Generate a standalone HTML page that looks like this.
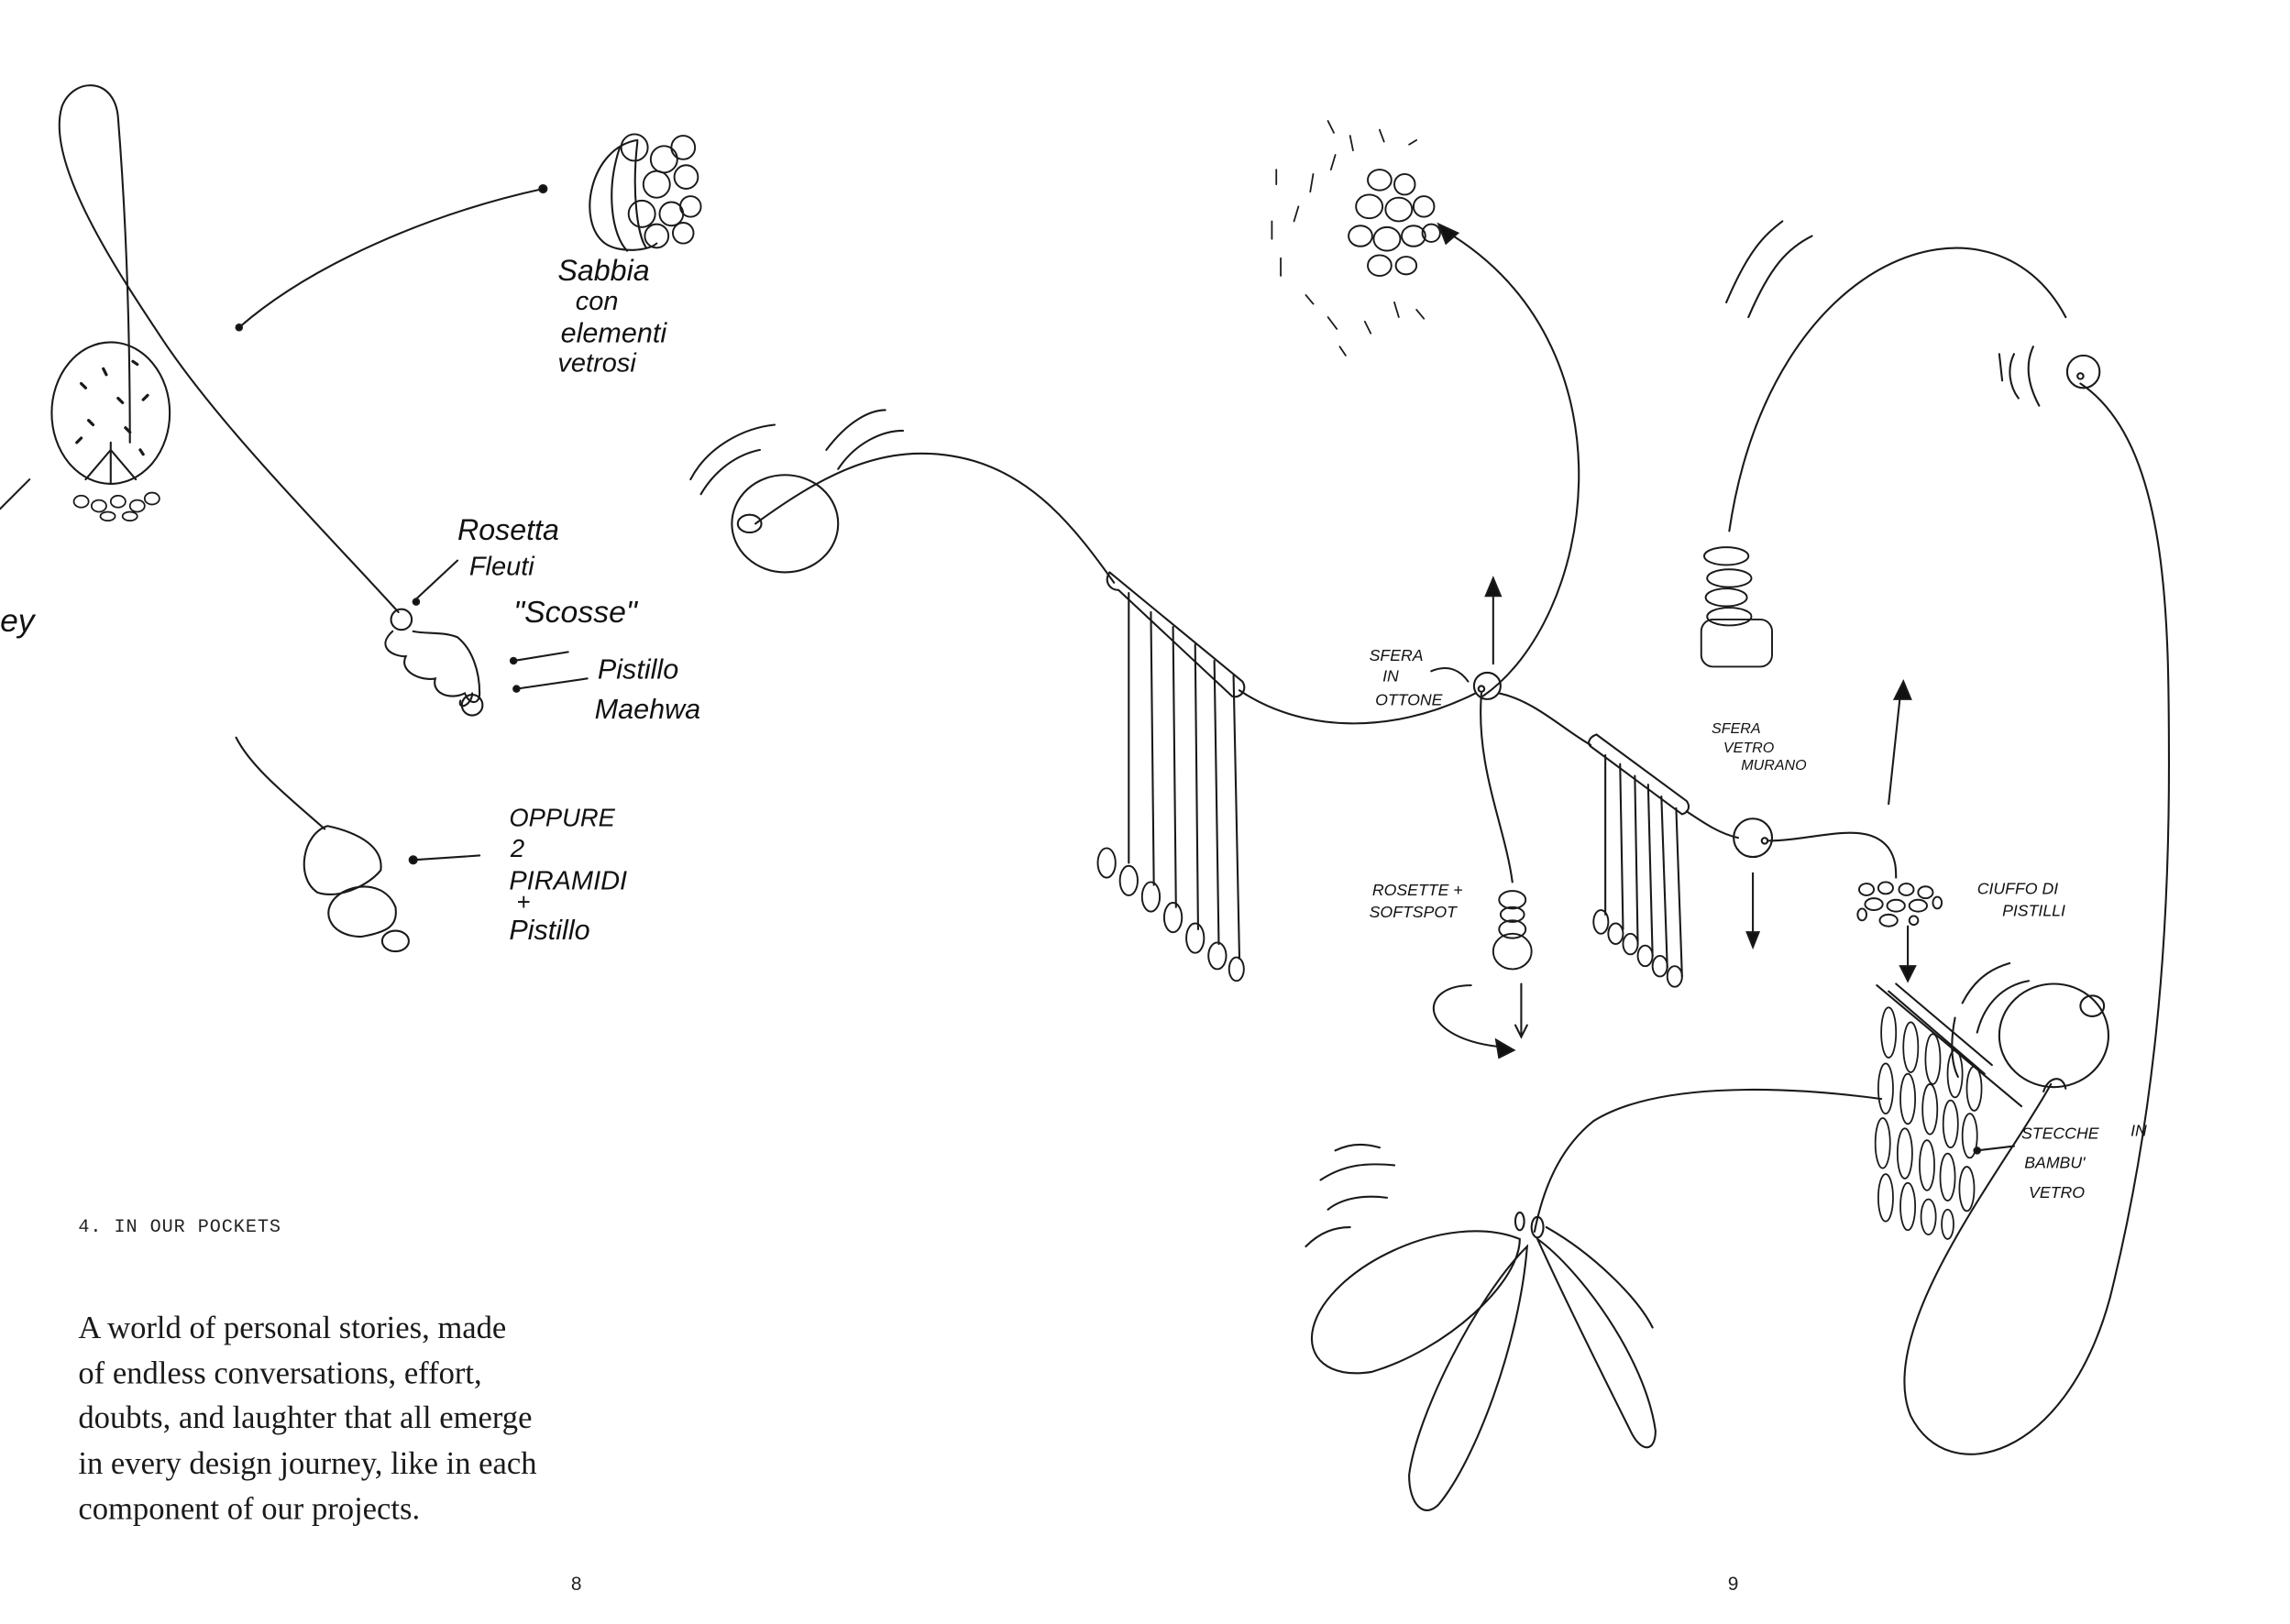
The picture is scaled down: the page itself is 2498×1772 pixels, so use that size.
<!DOCTYPE html>
<html><head><meta charset="utf-8"><style>
html,body{margin:0;padding:0;background:#fff}
svg{display:block}
.h{font-family:"Liberation Sans",sans-serif;font-style:italic;fill:#111}
</style></head><body>
<svg width="2498" height="1772" viewBox="0 0 1552 1101" xmlns="http://www.w3.org/2000/svg">
<g fill="none" stroke="#1a1a1a" stroke-width="1.3" stroke-linecap="round">
<!-- left loop -->
<path d="M270,415 C220,360 150,290 110,230 C80,185 30,110 42,72 C50,52 78,52 80,80 C84,130 88,200 88,300"/>
<ellipse cx="75" cy="280" rx="40" ry="48"/>
<path d="M75,300 L75,328 M75,305 L58,325 M75,305 L92,325"/>
<g stroke-width="2"><path d="M55,260l3,3M70,250l2,4M90,245l3,2M60,285l3,3M100,268l-3,3M85,290l3,3M52,300l3,-3M95,305l2,3M80,270l3,3"/></g>
<g stroke-width="1.1"><ellipse cx="55" cy="340" rx="5" ry="4"/><ellipse cx="67" cy="343" rx="5" ry="4"/><ellipse cx="80" cy="340" rx="5" ry="4"/><ellipse cx="93" cy="343" rx="5" ry="4"/><ellipse cx="103" cy="338" rx="5" ry="4"/><ellipse cx="73" cy="350" rx="5" ry="3"/><ellipse cx="88" cy="350" rx="5" ry="3"/></g>
<path d="M0,345 L20,325"/>
<path d="M162,222 C210,180 290,145 368,128"/>
<circle cx="162" cy="222" r="2" fill="#111"/><circle cx="368" cy="128" r="2.5" fill="#111"/>
<!-- sand sphere -->
<path d="M432,95 C400,100 390,150 410,165 C420,172 440,170 445,165"/>
<path d="M420,100 C410,130 415,160 425,170 M432,96 C428,130 432,160 438,168"/>
<g stroke-width="1.2"><circle cx="430" cy="100" r="9"/><circle cx="450" cy="108" r="9"/><circle cx="463" cy="100" r="8"/><circle cx="445" cy="125" r="9"/><circle cx="465" cy="120" r="8"/><circle cx="435" cy="145" r="9"/><circle cx="455" cy="145" r="8"/><circle cx="468" cy="140" r="7"/><circle cx="445" cy="160" r="8"/><circle cx="463" cy="158" r="7"/></g>
<!-- hand -->
<circle cx="272" cy="420" r="7"/>
<path d="M266,428 C255,438 265,445 275,445 C270,455 285,462 295,460 C292,470 305,475 315,470 C318,478 325,478 325,470 C325,455 320,440 310,432 C300,428 290,430 280,428 M320,470 C320,478 310,482 312,475"/>
<circle cx="320" cy="478" r="7"/>
<path d="M280,408 L310,380"/><circle cx="282" cy="408" r="2" fill="#111"/>
<path d="M348,448 L385,442"/><circle cx="348" cy="448" r="2" fill="#111"/>
<path d="M350,467 L398,460"/><circle cx="350" cy="467" r="2" fill="#111"/>
<!-- pyramids -->
<path d="M160,500 C170,520 195,540 220,562"/>
<path d="M222,560 C205,565 200,595 215,605 C230,610 250,600 258,590 C260,575 245,565 222,560Z"/>
<path d="M232,605 C215,615 222,635 245,635 C262,632 270,628 268,615 C262,600 245,598 232,605Z"/>
<ellipse cx="268" cy="638" rx="9" ry="7"/>
<path d="M280,583 L325,580"/><circle cx="280" cy="583" r="2.5" fill="#111"/>
<!-- middle sphere and chime -->
<ellipse cx="532" cy="355" rx="36" ry="33"/>
<ellipse cx="508" cy="355" rx="8" ry="6"/>
<path d="M468,325 C480,302 505,290 525,288 M475,335 C485,318 500,308 515,305 M560,305 C575,285 590,278 600,278 M568,318 C580,300 598,292 612,292"/>
<path d="M512,355 C560,320 600,300 650,310 C700,320 730,360 755,395"/>
<path d="M752,388 L842,462 M758,400 L835,472 M752,388 C748,394 752,400 758,400 M842,462 C846,468 840,474 835,472"/>
<path d="M765,402 L765,585 M780,415 L782,600 M795,425 L797,615 M810,437 L812,630 M823,448 L826,640 M836,458 L840,650"/>
<g stroke-width="1.2"><ellipse cx="750" cy="585" rx="6" ry="10"/><ellipse cx="765" cy="597" rx="6" ry="10"/><ellipse cx="780" cy="608" rx="6" ry="10"/><ellipse cx="795" cy="622" rx="6" ry="10"/><ellipse cx="810" cy="636" rx="6" ry="10"/><ellipse cx="825" cy="648" rx="6" ry="9"/><ellipse cx="838" cy="657" rx="5" ry="8"/></g>
<path d="M840,468 C880,495 940,500 1000,470"/>
<!-- big arc -->
<path d="M1005,472 C1080,420 1110,240 985,160"/>
<path d="M988,158 L975,152 L980,165Z" fill="#111"/>
<!-- pebble cluster -->
<g stroke-width="1.2"><ellipse cx="935" cy="122" rx="8" ry="7"/><ellipse cx="952" cy="125" rx="7" ry="7"/><ellipse cx="928" cy="140" rx="9" ry="8"/><ellipse cx="948" cy="142" rx="9" ry="8"/><ellipse cx="965" cy="140" rx="7" ry="7"/><ellipse cx="922" cy="160" rx="8" ry="7"/><ellipse cx="940" cy="162" rx="9" ry="8"/><ellipse cx="958" cy="160" rx="8" ry="7"/><ellipse cx="935" cy="180" rx="8" ry="7"/><ellipse cx="953" cy="180" rx="7" ry="6"/><ellipse cx="970" cy="158" rx="6" ry="6"/></g>
<g stroke-width="1.1"><path d="M900,82l4,8M915,92l2,10M935,88l3,8M905,105l-3,10M890,118l-2,12M865,115l0,10M880,140l-3,10M862,150l0,12M868,175l0,12M885,200l5,6M900,215l6,8M908,235l4,6M925,218l4,8M945,205l3,10M960,210l5,6M955,98l5,-3"/></g>
<path d="M1012,450 L1012,400"/><path d="M1012,392 L1007,404 L1017,404Z" fill="#111"/>
<path d="M970,455 C982,450 990,455 995,462"/>
<circle cx="1008" cy="465" r="9"/><circle cx="1004" cy="467" r="2"/>
<!-- rosette stack -->
<path d="M1004,470 C1000,520 1020,560 1025,598"/>
<g stroke-width="1.2"><ellipse cx="1025" cy="610" rx="9" ry="6"/><ellipse cx="1025" cy="620" rx="8" ry="5"/><ellipse cx="1025" cy="630" rx="9" ry="6"/><ellipse cx="1025" cy="645" rx="13" ry="12"/></g>
<path d="M1016,470 C1040,475 1060,495 1078,505"/>
<path d="M1082,498 L1143,543 M1078,506 L1140,552 M1082,498 C1076,500 1076,505 1078,506 M1143,543 C1146,547 1144,551 1140,552"/>
<path d="M1088,512 L1088,620 M1098,518 L1100,630 M1108,526 L1110,640 M1117,532 L1120,648 M1126,540 L1130,656 M1136,548 L1140,662"/>
<g stroke-width="1.2"><ellipse cx="1085" cy="625" rx="5" ry="8"/><ellipse cx="1095" cy="633" rx="5" ry="7"/><ellipse cx="1105" cy="640" rx="5" ry="7"/><ellipse cx="1115" cy="648" rx="5" ry="7"/><ellipse cx="1125" cy="655" rx="5" ry="7"/><ellipse cx="1135" cy="662" rx="5" ry="7"/></g>
<path d="M1143,550 C1155,558 1165,565 1178,568"/>
<circle cx="1188" cy="568" r="13"/><circle cx="1196" cy="570" r="2"/>
<path d="M1198,570 C1230,570 1265,555 1280,575 C1285,582 1285,590 1285,595"/>
<g stroke-width="1.2"><ellipse cx="1265" cy="603" rx="5" ry="4"/><ellipse cx="1278" cy="602" rx="5" ry="4"/><ellipse cx="1292" cy="603" rx="5" ry="4"/><ellipse cx="1305" cy="605" rx="5" ry="4"/><ellipse cx="1270" cy="613" rx="6" ry="4"/><ellipse cx="1285" cy="614" rx="6" ry="4"/><ellipse cx="1300" cy="614" rx="6" ry="4"/><ellipse cx="1262" cy="620" rx="3" ry="4"/><ellipse cx="1280" cy="624" rx="6" ry="4"/><ellipse cx="1297" cy="624" rx="3" ry="3"/><ellipse cx="1313" cy="612" rx="3" ry="4"/></g>
<path d="M1188,592 L1188,637"/><path d="M1188,642 L1184,632 L1192,632Z" fill="#111"/>
<path d="M1280,545 L1288,470"/><path d="M1290,462 L1284,474 L1295,474Z" fill="#111"/>
<path d="M1293,628 L1293,660"/><path d="M1293,665 L1288,655 L1298,655Z" fill="#111"/>
<path d="M997,668 C960,668 960,705 1020,710"/><path d="M1026,712 L1014,705 L1016,717Z" fill="#111"/>
<path d="M1031,667 L1031,703 M1027,695 L1031,703 L1035,695"/>
<!-- right loop -->
<circle cx="1412" cy="252" r="11"/><circle cx="1410" cy="255" r="2"/>
<path d="M1410,260 C1470,300 1470,420 1470,520 C1470,640 1460,760 1430,880 C1400,990 1320,1010 1295,960 C1270,900 1360,790 1390,735"/>
<path d="M1400,215 C1350,120 1200,170 1172,360"/>
<path d="M1170,205 C1185,170 1195,160 1208,150 M1185,215 C1200,180 1212,168 1228,160 M1355,240 l2,18 M1365,240 C1360,250 1362,262 1368,270 M1378,235 C1372,248 1375,262 1382,275"/>
<g stroke-width="1.2"><ellipse cx="1170" cy="377" rx="15" ry="6"/><ellipse cx="1172" cy="392" rx="15" ry="6"/><ellipse cx="1170" cy="405" rx="14" ry="6"/><ellipse cx="1172" cy="418" rx="15" ry="6"/><rect x="1153" y="420" width="48" height="32" rx="8"/></g>
<!-- bottom right sphere & grid -->
<ellipse cx="1392" cy="702" rx="37" ry="35"/>
<ellipse cx="1418" cy="682" rx="8" ry="7"/>
<path d="M1385,740 C1388,730 1398,728 1400,738"/>
<path d="M1330,680 C1340,660 1355,655 1362,653 M1340,700 C1345,680 1358,668 1375,665 M1325,690 C1322,705 1322,720 1327,730"/>
<path d="M1272,668 L1370,750 M1280,672 L1345,728 M1285,667 L1350,722"/>
<g stroke-width="1.1">
<ellipse cx="1280" cy="700" rx="5" ry="17"/><ellipse cx="1295" cy="710" rx="5" ry="17"/><ellipse cx="1310" cy="718" rx="5" ry="17"/><ellipse cx="1325" cy="728" rx="5" ry="16"/><ellipse cx="1338" cy="738" rx="5" ry="15"/>
<ellipse cx="1278" cy="738" rx="5" ry="17"/><ellipse cx="1293" cy="745" rx="5" ry="17"/><ellipse cx="1308" cy="752" rx="5" ry="17"/><ellipse cx="1322" cy="762" rx="5" ry="16"/><ellipse cx="1335" cy="770" rx="5" ry="15"/>
<ellipse cx="1276" cy="775" rx="5" ry="17"/><ellipse cx="1291" cy="782" rx="5" ry="17"/><ellipse cx="1306" cy="790" rx="5" ry="17"/><ellipse cx="1320" cy="798" rx="5" ry="16"/><ellipse cx="1333" cy="806" rx="5" ry="15"/>
<ellipse cx="1278" cy="812" rx="5" ry="16"/><ellipse cx="1293" cy="818" rx="5" ry="16"/><ellipse cx="1307" cy="825" rx="5" ry="12"/><ellipse cx="1320" cy="830" rx="4" ry="10"/></g>
<path d="M1340,780 L1365,777"/><circle cx="1340" cy="780" r="2" fill="#111"/>
<!-- flower bottom -->
<path d="M1275,745 C1200,735 1120,735 1080,760 C1055,780 1045,810 1040,835"/>
<path d="M1030,840 C980,820 900,860 890,900 C885,920 900,935 930,930 C980,915 1030,870 1030,840Z"/>
<path d="M1035,845 C1000,880 960,960 955,1000 C955,1020 965,1030 975,1020 C1000,990 1030,910 1035,845Z"/>
<path d="M1042,840 C1060,880 1090,940 1105,970 C1112,985 1122,985 1122,970 C1115,920 1070,860 1042,840Z"/>
<path d="M1048,832 C1080,850 1110,880 1120,900"/>
<ellipse cx="1030" cy="828" rx="3" ry="6"/><ellipse cx="1042" cy="832" rx="4" ry="7"/>
<path d="M905,780 C915,775 925,775 935,778 M895,800 C910,790 925,788 945,790 M885,845 C895,835 905,832 915,832 M900,820 C910,812 925,810 940,812"/>
</g>
<g class="h">
<text x="378" y="190" font-size="20">Sabbia</text>
<text x="390" y="210" font-size="18">con</text>
<text x="380" y="232" font-size="19">elementi</text>
<text x="378" y="252" font-size="18">vetrosi</text>
<text x="310" y="366" font-size="20">Rosetta</text>
<text x="318" y="390" font-size="18">Fleuti</text>
<text x="348" y="422" font-size="21">"Scosse"</text>
<text x="405" y="460" font-size="19">Pistillo</text>
<text x="403" y="487" font-size="19">Maehwa</text>
<text x="345" y="560" font-size="17">OPPURE</text>
<text x="346" y="581" font-size="17">2</text>
<text x="345" y="603" font-size="18">PIRAMIDI</text>
<text x="350" y="617" font-size="16">+</text>
<text x="345" y="637" font-size="19">Pistillo</text>
<text x="0" y="428" font-size="22">ey</text>
<text x="928" y="448" font-size="11">SFERA</text>
<text x="937" y="462" font-size="11">IN</text>
<text x="932" y="478" font-size="11">OTTONE</text>
<text x="1160" y="497" font-size="10">SFERA</text>
<text x="1168" y="510" font-size="10">VETRO</text>
<text x="1180" y="522" font-size="10">MURANO</text>
<text x="930" y="607" font-size="11">ROSETTE +</text>
<text x="928" y="622" font-size="11">SOFTSPOT</text>
<text x="1340" y="606" font-size="11">CIUFFO  DI</text>
<text x="1357" y="621" font-size="11">PISTILLI</text>
<text x="1370" y="772" font-size="11">STECCHE</text>
<text x="1444" y="770" font-size="11">IN</text>
<text x="1372" y="792" font-size="11">BAMBU'</text>
<text x="1375" y="812" font-size="11">VETRO</text>
</g>
<text x="53" y="835" font-family="Liberation Mono, monospace" font-size="12.5" fill="#222" letter-spacing="0.6">4. IN OUR POCKETS</text>
<g font-family="Liberation Serif, serif" font-size="21.5" fill="#1a1a1a">
<text x="53" y="907">A world of personal stories, made</text>
<text x="53" y="938">of endless conversations, effort,</text>
<text x="53" y="968">doubts, and laughter that all emerge</text>
<text x="53" y="999">in every design journey, like in each</text>
<text x="53" y="1030">component of our projects.</text>
</g>
<text x="387" y="1078" font-family="Liberation Sans, sans-serif" font-size="13" fill="#222">8</text>
<text x="1171" y="1078" font-family="Liberation Sans, sans-serif" font-size="13" fill="#222">9</text>
</svg>
</body></html>
